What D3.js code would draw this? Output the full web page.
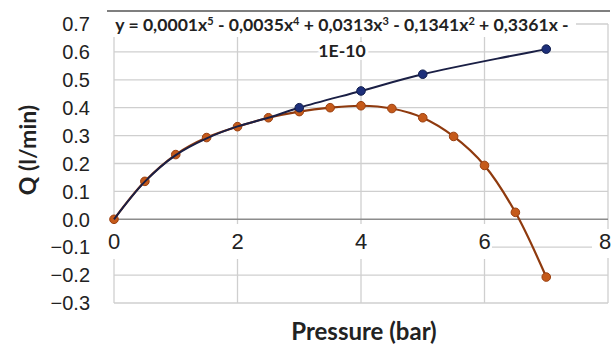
<!DOCTYPE html>
<html>
<head>
<meta charset="utf-8">
<script src="https://cdn.jsdelivr.net/npm/d3@7"></script>
<style>
  body { margin: 0; background: #fff; }
  svg { display: block; }
</style>
</head>
<body>
<div id="chart"></div>
<script>
// data
var blueX = [0, 0.5, 1, 1.5, 2, 2.5, 3, 4, 5, 7];
var blueQ = [0, 0.135, 0.23, 0.29, 0.333, 0.364, 0.40, 0.46, 0.52, 0.61];
var orangeX = [0, 0.5, 1, 1.5, 2, 2.5, 3, 3.5, 4, 4.5, 5, 5.5, 6, 6.5, 7];
var orangeQ = [0, 0.136, 0.232, 0.293, 0.332, 0.364, 0.386, 0.40, 0.407, 0.397, 0.364, 0.297, 0.193, 0.025, -0.207];
var xTicks = [0, 2, 4, 6, 8];
var yTicks = [-0.3, -0.2, -0.1, 0.0, 0.1, 0.2, 0.3, 0.4, 0.5, 0.6, 0.7];
var eqLine1 = ["y = 0,0001x", "5", " - 0,0035x", "4", " + 0,0313x", "3", " - 0,1341x", "2", " + 0,3361x -"];
var eqLine2 = "1E-10";

var width = 616, height = 345;
var svg = d3.select("#chart").append("svg")
    .attr("width", width)
    .attr("height", height);

var x = d3.scaleLinear().domain([0, 8]).range([114, 608]);
var y = d3.scaleLinear().domain([-0.3, 0.7]).range([303, 24]);

// frame line at the very top
svg.append("line")
    .attr("x1", 107).attr("x2", 610)
    .attr("y1", 11).attr("y2", 11)
    .attr("stroke", "#555").attr("stroke-width", 1.5);

// grid
var grid = svg.append("g");
grid.selectAll("line.h")
    .data(yTicks.filter(function (d) { return Math.abs(d) > 1e-9; }))
    .enter().append("line")
    .attr("x1", x(0)).attr("x2", x(8))
    .attr("y1", function (d) { return y(d); })
    .attr("y2", function (d) { return y(d); })
    .attr("stroke", "#cfcfcf").attr("stroke-width", 1.3);
grid.selectAll("line.v")
    .data(xTicks)
    .enter().append("line")
    .attr("x1", function (d) { return x(d); })
    .attr("x2", function (d) { return x(d); })
    .attr("y1", y(0.7)).attr("y2", y(-0.3))
    .attr("stroke", "#cfcfcf").attr("stroke-width", 1.3);

// white band behind x tick labels
svg.append("rect").attr("x", 104).attr("y", 224).attr("width", 388).attr("height", 35).attr("fill", "#fff");
svg.append("rect").attr("x", 592).attr("y", 229).attr("width", 24).attr("height", 29).attr("fill", "#fff");
// white box behind the trendline label
svg.append("rect").attr("x", 106).attr("y", 14).attr("width", 470).attr("height", 23).attr("fill", "#fff");

// zero line
svg.append("line")
    .attr("x1", x(0)).attr("x2", x(8))
    .attr("y1", y(0)).attr("y2", y(0))
    .attr("stroke", "#8c8c8c").attr("stroke-width", 1.5);

// y axis labels
svg.append("g").selectAll("text")
    .data(yTicks)
    .enter().append("text")
    .attr("x", 90)
    .attr("y", function (d) { return y(d); })
    .attr("dy", "0.36em")
    .attr("text-anchor", "end")
    .attr("font-family", "Liberation Sans, Arial, sans-serif")
    .attr("font-size", "20px")
    .attr("fill", "#222")
    .text(function (d) { return d3.format(".1f")(d); });

// x axis labels
svg.append("g").selectAll("text")
    .data(xTicks)
    .enter().append("text")
    .attr("x", function (d) { return x(d) + (d === 8 ? -3 : 0); })
    .attr("y", 241)
    .attr("dy", "0.36em")
    .attr("text-anchor", "middle")
    .attr("font-family", "Liberation Sans, Arial, sans-serif")
    .attr("font-size", "22px")
    .attr("fill", "#222")
    .text(function (d) { return d; });

// series
var line = d3.line().curve(d3.curveCatmullRom.alpha(0.5));

var bluePts = blueX.map(function (d, i) { return [x(d), y(blueQ[i])]; });
var orangePts = orangeX.map(function (d, i) { return [x(d), y(orangeQ[i])]; });

svg.append("path")
    .attr("d", line(orangePts))
    .attr("fill", "none")
    .attr("stroke", "#8f3a0e")
    .attr("stroke-width", 2.2);
svg.append("g").selectAll("circle")
    .data(orangePts)
    .enter().append("circle")
    .attr("cx", function (d) { return d[0]; })
    .attr("cy", function (d) { return d[1]; })
    .attr("r", 4.3)
    .attr("fill", "#c55a1a")
    .attr("stroke", "#9a3f0f");

svg.append("path")
    .attr("d", line(bluePts))
    .attr("fill", "none")
    .attr("stroke", "#1a1f45")
    .attr("stroke-width", 2);
svg.append("g").selectAll("circle")
    .data(bluePts.slice(6))
    .enter().append("circle")
    .attr("cx", function (d) { return d[0]; })
    .attr("cy", function (d) { return d[1]; })
    .attr("r", 4.3)
    .attr("fill", "#1d2f7a")
    .attr("stroke", "#13204f");

// trendline label
var eq = svg.append("text")
    .attr("x", 342)
    .attr("y", 31)
    .attr("text-anchor", "middle")
    .attr("font-family", "Lato, Open Sans, sans-serif")
    .attr("font-weight", "bold")
    .attr("font-size", "17.6px")
    .attr("fill", "#222");
eqLine1.forEach(function (s, i) {
    if (i % 2 === 1) {
        eq.append("tspan").attr("dy", -6).attr("font-size", "11px").text(s);
    } else {
        eq.append("tspan").attr("dy", i === 0 ? 0 : 6).text(s);
    }
});
svg.append("text")
    .attr("x", 342)
    .attr("y", 57)
    .attr("text-anchor", "middle")
    .attr("font-family", "Lato, Open Sans, sans-serif")
    .attr("font-weight", "bold")
    .attr("font-size", "17.6px")
    .attr("fill", "#222")
    .attr("stroke", "#fff")
    .attr("stroke-width", 6)
    .attr("paint-order", "stroke")
    .text(eqLine2);

// axis titles
svg.append("text")
    .attr("x", 364)
    .attr("y", 340)
    .attr("text-anchor", "middle")
    .attr("font-family", "Lato, Open Sans, sans-serif")
    .attr("font-weight", "bold")
    .attr("font-size", "24px")
    .attr("fill", "#222")
    .text("Pressure (bar)");
svg.append("text")
    .attr("transform", "translate(36,150) rotate(-90)")
    .attr("text-anchor", "middle")
    .attr("font-family", "Lato, Open Sans, sans-serif")
    .attr("font-weight", "bold")
    .attr("font-size", "23px")
    .attr("fill", "#222")
    .text("Q (l/min)");
</script>
</body>
</html>
